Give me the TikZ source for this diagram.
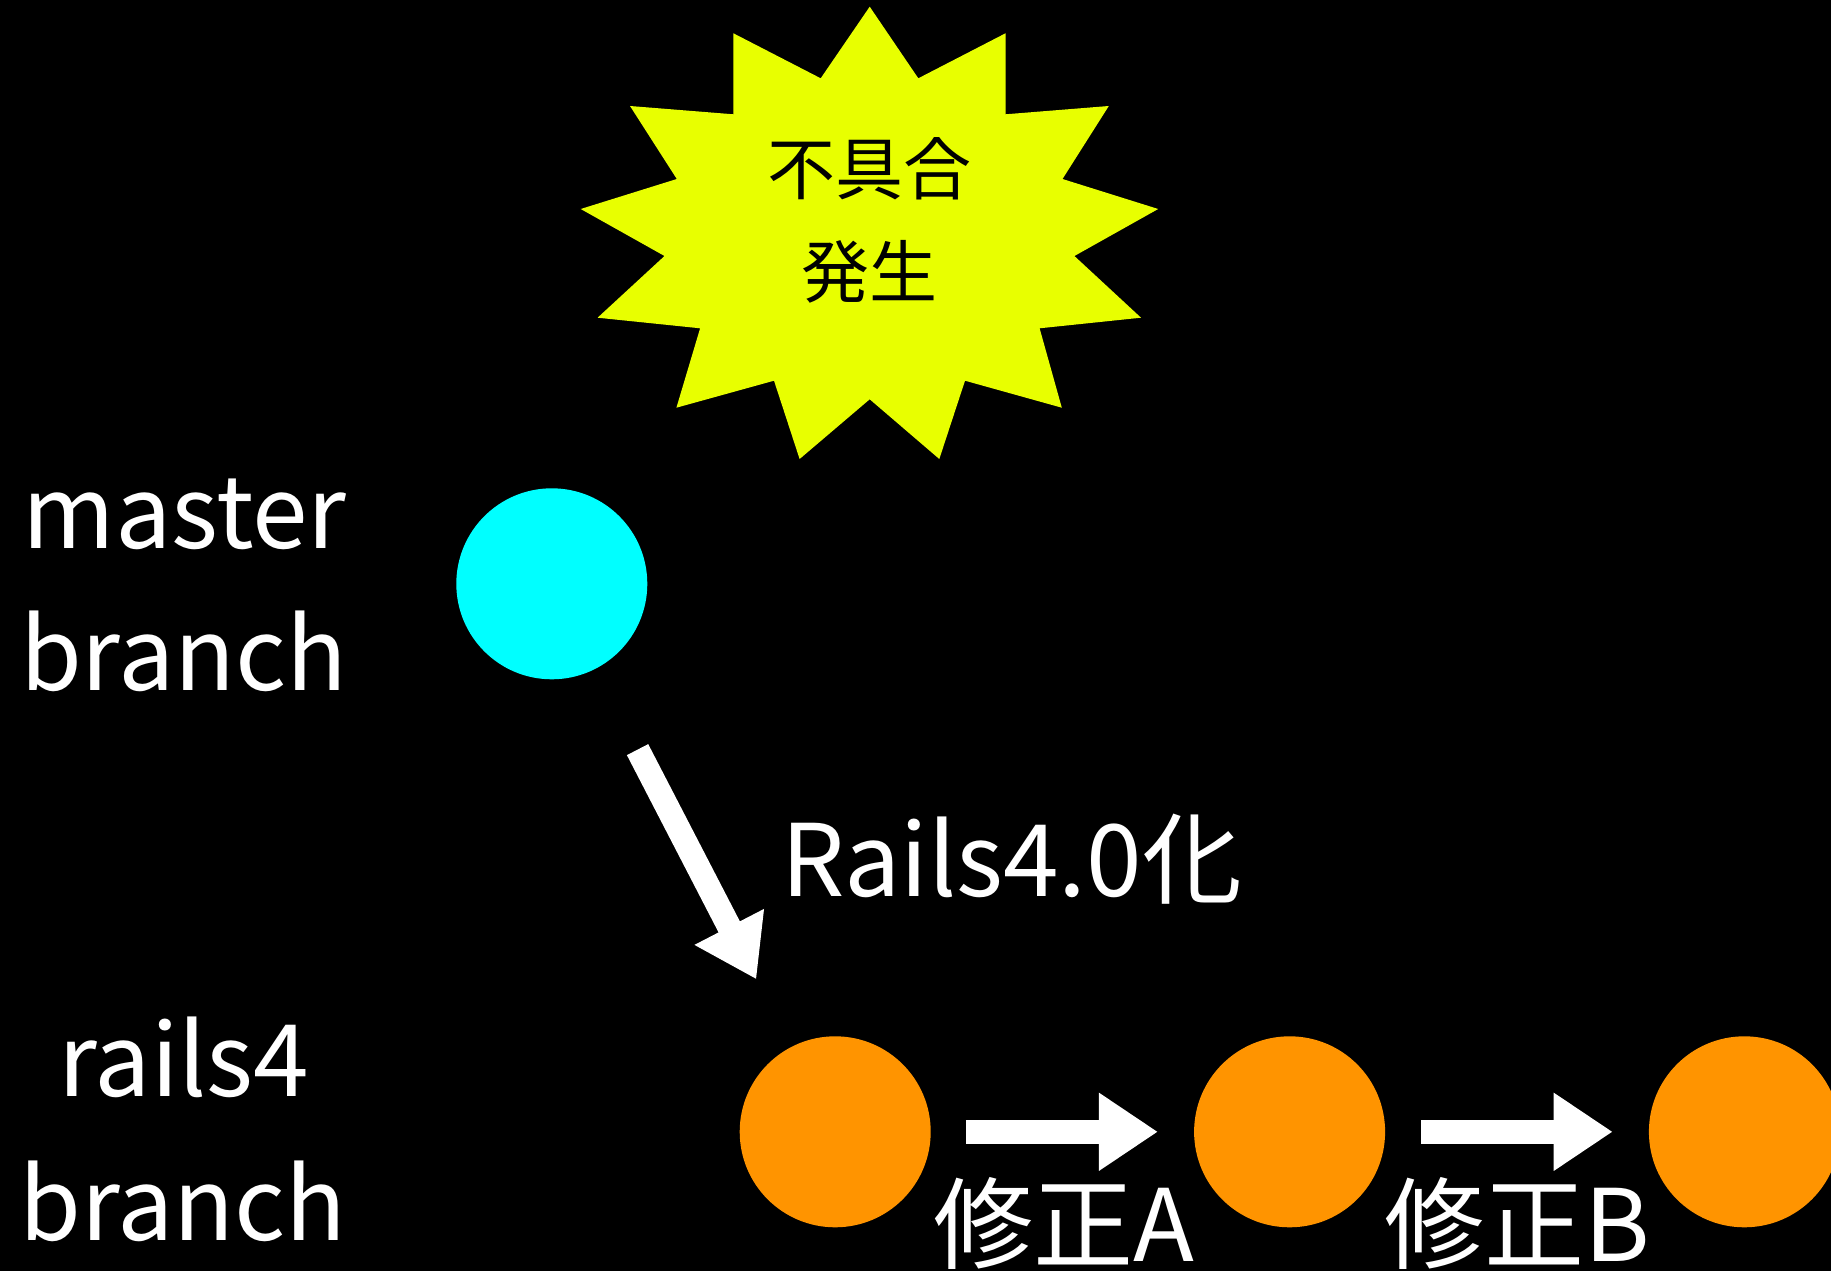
\documentclass[tikz,border=0pt]{standalone}
\usepackage{fontspec}
\setmainfont{Noto Sans CJK JP}
\usetikzlibrary{arrows.meta}
\definecolor{burst}{RGB}{232,255,0}
\definecolor{commitcyan}{RGB}{0,255,255}
\definecolor{commitorange}{RGB}{255,148,0}
\tikzset{
  bigfont/.style={font=\fontsize{100pt}{120pt}\selectfont, text=white, inner sep=0pt},
  burstfont/.style={font=\fontsize{68pt}{80pt}\selectfont, text=black, inner sep=0pt},
  commit/.style={circle, minimum size=191pt, inner sep=0pt, fill=#1},
  bigarrow/.style={draw=white, line width=24pt, -{Triangle[length=59pt, width=74pt]}}
}
\begin{document}
\begin{tikzpicture}[x=1pt, y=-1pt]
\useasboundingbox (0,0) rectangle (1831,1271);
\clip (0,0) rectangle (1831,1271);
\fill[black] (0,0) rectangle (1831,1271);

% starburst
\fill[burst] (869.7,6.7) -- (918.3,78.3) -- (1005.5,33.3) -- (1005.5,114.3)
  -- (1108.8,106) -- (1062.5,179) -- (1158.2,209) -- (1074.4,256)
  -- (1141,317.7) -- (1039.6,328.3) -- (1061.8,407.7) -- (965,380.7)
  -- (939.3,459) -- (869.7,399.3) -- (799.6,459) -- (774,380.7)
  -- (676.4,407.7) -- (700.1,328.3) -- (597.6,317.7) -- (664.5,256)
  -- (580.7,209) -- (676.8,179) -- (630,106) -- (733.4,114.3)
  -- (733.4,33.3) -- (820.7,78.3) -- cycle;
\node[burstfont, anchor=base] (bug1) at (869.5,194) {不具合};
\node[burstfont, anchor=base] (bug2) at (869.5,297) {発生};

% labels
\node[bigfont, anchor=base] (ml1) at (184.5,548.3) {master};
\node[bigfont, anchor=base] (ml2) at (183.5,690.7) {branch};
\node[bigfont, anchor=base] (rl1) at (183.8,1096.7) {rails4};
\node[bigfont, anchor=base] (rl2) at (183,1240) {branch};

% commits
\node[commit=commitcyan] (m) at (551.8,583.8) {};
\node[commit=commitorange] (o1) at (835.2,1131.8) {};
\node[commit=commitorange] (o2) at (1289.6,1131.8) {};
\node[commit=commitorange] (o3) at (1744.4,1131.8) {};

% arrows
\draw[bigarrow, shorten <=91pt, shorten >=76pt] (m) -- (o1);
\draw[bigarrow, shorten <=35pt, shorten >=36pt] (o1) -- (o2);
\draw[bigarrow, shorten <=36pt, shorten >=36pt] (o2) -- (o3);

\node[bigfont, anchor=base west] (rails) at (781,896) {Rails4.0化};
\node[bigfont, anchor=base] (fixa) at (1064,1261) {修正A};
\node[bigfont, anchor=base] (fixb) at (1517,1261) {修正B};
\end{tikzpicture}
\end{document}
